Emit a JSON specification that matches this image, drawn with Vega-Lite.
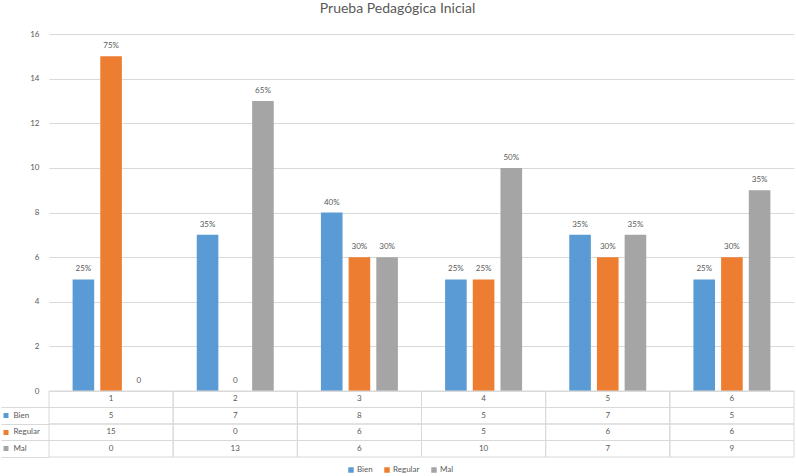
{
  "$schema": "https://vega.github.io/schema/vega-lite/v6.json",
  "background": "white",
  "padding": {"left": 0, "top": 2, "right": 3, "bottom": 0},
  "bounds": "flush",
  "spacing": 0,
  "title": {"text": "Prueba Pedagógica Inicial", "fontSize": 14, "fontWeight": "normal", "color": "#595959", "anchor": "middle", "offset": 14, "font": "Lato"},
  "config": {"font": "Lato", "view": {"stroke": null}},
  "datasets": {
    "bars": [
      {"cat": "1", "serie": "Bien", "n": 5, "label": "25%"},
      {"cat": "1", "serie": "Regular", "n": 15, "label": "75%"},
      {"cat": "1", "serie": "Mal", "n": 0, "label": "0"},
      {"cat": "2", "serie": "Bien", "n": 7, "label": "35%"},
      {"cat": "2", "serie": "Regular", "n": 0, "label": "0"},
      {"cat": "2", "serie": "Mal", "n": 13, "label": "65%"},
      {"cat": "3", "serie": "Bien", "n": 8, "label": "40%"},
      {"cat": "3", "serie": "Regular", "n": 6, "label": "30%"},
      {"cat": "3", "serie": "Mal", "n": 6, "label": "30%"},
      {"cat": "4", "serie": "Bien", "n": 5, "label": "25%"},
      {"cat": "4", "serie": "Regular", "n": 5, "label": "25%"},
      {"cat": "4", "serie": "Mal", "n": 10, "label": "50%"},
      {"cat": "5", "serie": "Bien", "n": 7, "label": "35%"},
      {"cat": "5", "serie": "Regular", "n": 6, "label": "30%"},
      {"cat": "5", "serie": "Mal", "n": 7, "label": "35%"},
      {"cat": "6", "serie": "Bien", "n": 5, "label": "25%"},
      {"cat": "6", "serie": "Regular", "n": 6, "label": "30%"},
      {"cat": "6", "serie": "Mal", "n": 9, "label": "35%"}
    ],
    "cats": [
      {"cat": "1"}, {"cat": "2"}, {"cat": "3"}, {"cat": "4"}, {"cat": "5"}, {"cat": "6"}
    ]
  },
  "vconcat": [
    {
      "width": 745,
      "height": 357,
      "data": {"name": "bars"},
      "encoding": {
        "x": {"field": "cat", "type": "nominal", "scale": {"paddingInner": 0.38, "paddingOuter": 0.19}, "axis": null},
        "xOffset": {"field": "serie", "type": "nominal", "scale": {"domain": ["Bien", "Regular", "Mal"], "paddingInner": 0.22, "paddingOuter": 0}},
        "y": {
          "field": "n", "type": "quantitative",
          "scale": {"domain": [0, 16]},
          "axis": {"values": [0, 2, 4, 6, 8, 10, 12, 14, 16], "title": null, "domain": false, "ticks": false, "labelPadding": 10, "labelFontSize": 8, "labelColor": "#595959", "gridColor": "#d9d9d9", "gridWidth": 1}
        }
      },
      "layer": [
        {
          "mark": {"type": "bar"},
          "encoding": {
            "color": {
              "field": "serie", "type": "nominal",
              "scale": {"domain": ["Bien", "Regular", "Mal"], "range": ["#5B9BD5", "#ED7D31", "#A5A5A5"]},
              "legend": {"orient": "none", "legendX": 298, "legendY": 432, "direction": "horizontal", "title": null, "symbolType": "square", "symbolSize": 30, "symbolStrokeWidth": 0, "labelFontSize": 8, "labelColor": "#595959", "columnPadding": 10, "labelOffset": 2}
            }
          }
        },
        {
          "mark": {"type": "text", "dy": -10, "fontSize": 8, "color": "#595959"},
          "encoding": {"text": {"field": "label"}}
        }
      ]
    },
    {
      "width": 745,
      "height": 66,
      "layer": [
        {
          "data": {"name": "bars"},
          "mark": {"type": "rect", "fill": "transparent", "stroke": "#d9d9d9", "strokeWidth": 1},
          "encoding": {
            "x": {"field": "cat", "type": "nominal", "scale": {"paddingInner": 0, "paddingOuter": 0}, "axis": null},
            "y": {
              "field": "serie", "type": "nominal",
              "scale": {"domain": ["hdr", "Bien", "Regular", "Mal"], "paddingInner": 0, "paddingOuter": 0},
              "axis": {"orient": "left", "values": ["hdr", "Bien", "Regular", "Mal"], "bandPosition": 1, "tickSize": 48, "tickColor": "#d9d9d9", "tickWidth": 1, "labels": false, "domain": false, "grid": false, "title": null}
            }
          }
        },
        {
          "data": {"name": "cats"},
          "mark": {"type": "rect", "fill": "transparent", "stroke": "#d9d9d9", "strokeWidth": 1},
          "encoding": {
            "x": {"field": "cat", "type": "nominal"},
            "y": {"datum": "hdr", "type": "nominal", "axis": null}
          }
        },
        {
          "data": {"name": "bars"},
          "mark": {"type": "text", "fontSize": 8, "color": "#595959"},
          "encoding": {
            "x": {"field": "cat", "type": "nominal"},
            "y": {
              "field": "serie", "type": "nominal",
              "axis": {"orient": "left", "values": ["Bien", "Regular", "Mal"], "offset": 41, "tickSize": 5, "tickWidth": 5, "tickColor": {"expr": "datum.value == 'Bien' ? '#5B9BD5' : datum.value == 'Regular' ? '#ED7D31' : '#A5A5A5'"}, "labelAlign": "left", "labelPadding": -10, "labelFontSize": 8, "labelColor": "#595959", "domain": false, "grid": false, "title": null}
            },
            "text": {"field": "n"}
          }
        },
        {
          "data": {"name": "cats"},
          "mark": {"type": "text", "fontSize": 8, "color": "#595959"},
          "encoding": {
            "x": {"field": "cat", "type": "nominal"},
            "y": {"datum": "hdr", "type": "nominal", "axis": null},
            "text": {"field": "cat"}
          }
        }
      ],
      "resolve": {"axis": {"y": "independent"}}
    }
  ]
}
